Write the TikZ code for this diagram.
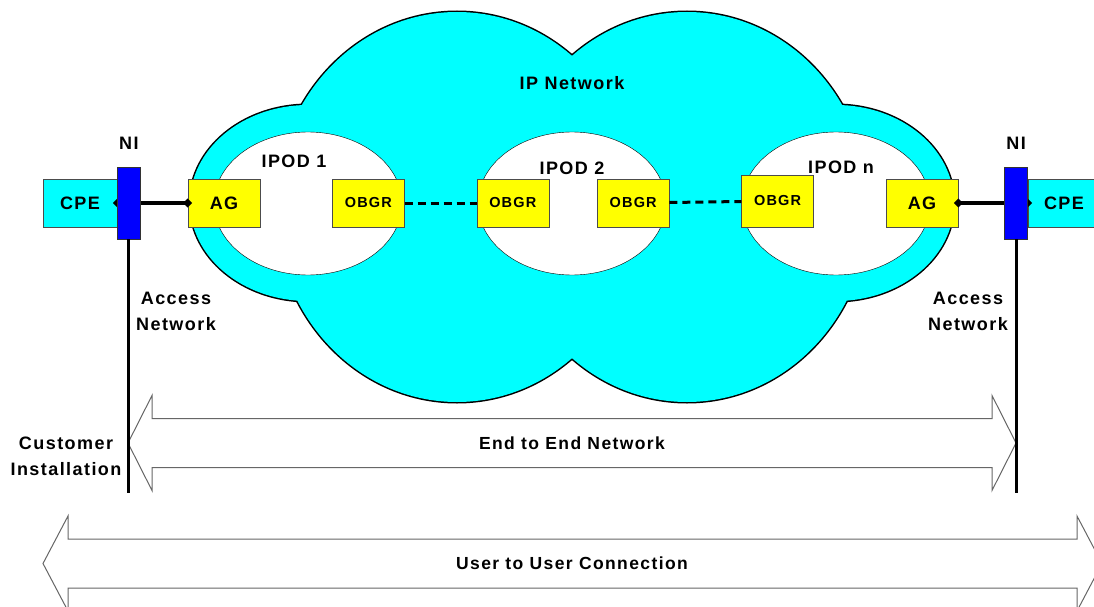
\documentclass[tikz,border=0pt]{standalone}
\usepackage{fontspec}
\setmainfont{Liberation Sans}[LetterSpace=8]
\usepackage{tikz}
\definecolor{cl}{rgb}{0.00, 1.00, 1.00}
\definecolor{ag}{rgb}{1.00, 1.00, 0.00}
\definecolor{ni}{rgb}{0.00, 0.00, 1.00}
\definecolor{ar}{rgb}{0.40, 0.40, 0.40}
\usetikzlibrary{positioning, arrows.meta}

\begin{document}
\begin{tikzpicture}[x=1pt, y=-1pt,
                    every node/.style = {text=black, inner sep=0pt, align=center, font=\fontsize{18}{26}\selectfont\bfseries},
                    box/.style = {draw=black!70, fill=ag, minimum width=72pt, minimum height=48pt},
                    obgr/.style = {box, font=\fontsize{14.5}{16}\selectfont\bfseries},
                    cpe/.style = {draw=black!70, fill=cl, minimum height=48pt},
                    nibox/.style = {draw=black!80, fill=ni, minimum width=23pt, minimum height=72pt},
                    link/.style = {draw, line width=4.5pt, shorten <=-3.5pt, shorten >=-3.5pt,
                                   {Circle[length=7.5pt]}-{Circle[length=7.5pt]}},
                    dashlink/.style = {draw, line width=3pt, dash pattern=on 8pt off 5pt},
                    drop/.style = {draw, line width=3pt},
                    blockarrow/.style = {draw=ar, line width=1pt, fill=white},
                    small/.style = {font=\fontsize{17.5}{26}\selectfont\bfseries}]
                \useasboundingbox (0,0) rectangle (1094,607);
                \clip (0,0) rectangle (1094,607);
                \draw[line width=3pt, fill=cl] (457,207) ellipse [x radius=182, y radius=195]
                                               (687,207) ellipse [x radius=182, y radius=195]
                                               (308,203) ellipse [x radius=118, y radius=98]
                                               (836,203) ellipse [x radius=118, y radius=98];
                \fill[cl] (457,207) ellipse [x radius=182, y radius=195]
                          (687,207) ellipse [x radius=182, y radius=195]
                          (308,203) ellipse [x radius=118, y radius=98]
                          (836,203) ellipse [x radius=118, y radius=98];
                \draw[fill=white] (308,203.5) ellipse [x radius=94, y radius=71.5]
                                  (572,203.5) ellipse [x radius=94, y radius=71.5]
                                  (836,203.5) ellipse [x radius=94, y radius=71.5];
                \node (ipn)  at (572,83)  {IP Network};
                \node (ipA)  at (294,161) {IPOD 1};
                \node (ipB)  at (572,168) {IPOD 2};
                \node (ipC)  at (841,167) {IPOD n};
                \node (agL)  [box] at (224,203) {AG};
                \node (obA)  [obgr, right = 72pt of agL] {OBGR};
                \node (obB)  [obgr, right = 72pt of obA] {OBGR};
                \node (obC)  [obgr, right = 48pt of obB] {OBGR};
                \node (obD)  [obgr, minimum height=52pt, right = 72pt of obC, yshift=2pt] {OBGR};
                \node (agR)  [box, right = 72pt of obD, yshift=-2pt] {AG};
                \node (cpeL) [cpe, minimum width=74pt] at (80,203) {CPE};
                \node (cpeR) [cpe, minimum width=72pt] at (1064,203) {CPE};
                \draw (cpeL) edge[link] (agL);
                \draw (agR)  edge[link] (cpeR);
                \draw (obA)  edge[dashlink] (obB);
                \draw (obC)  edge[dashlink] (obD);
                \node (niL)  [nibox, right = 0pt of cpeL] {};
                \node (niR)  [nibox, left = 0pt of cpeR] {};
                \node (niLt) [above = 17pt of niL] {NI};
                \node (niRt) [above = 17pt of niR] {NI};
                \coordinate (ciL) at (niL |- 0,493);
                \coordinate (ciR) at (niR |- 0,493);
                \draw[blockarrow] (128,443) -- (152,395.5) -- (152,418.5) -- (992,418.5) -- (992,395.5)
                                  -- (1016,443) -- (992,490.5) -- (992,467.5) -- (152,467.5) -- (152,490.5) -- cycle;
                \draw[blockarrow] (43,563.5) -- (68,516) -- (68,539) -- (1077,539) -- (1077,516)
                                  -- (1102,563.5) -- (1077,611) -- (1077,588) -- (68,588) -- (68,611) -- cycle;
                \draw[drop] (niL) -- (ciL);
                \draw[drop] (niR) -- (ciR);
                \node (accL) at (176,311) {Access\\Network};
                \node (accR) at (968,311) {Access\\Network};
                \node (cust) at (66,456)  {Customer\\Installation};
                \node (e2e)  [small] at (572,443)   {End to End Network};
                \node (u2u)  [small] at (572,563.5) {User to User Connection};
            \end{tikzpicture}
\end{document}
